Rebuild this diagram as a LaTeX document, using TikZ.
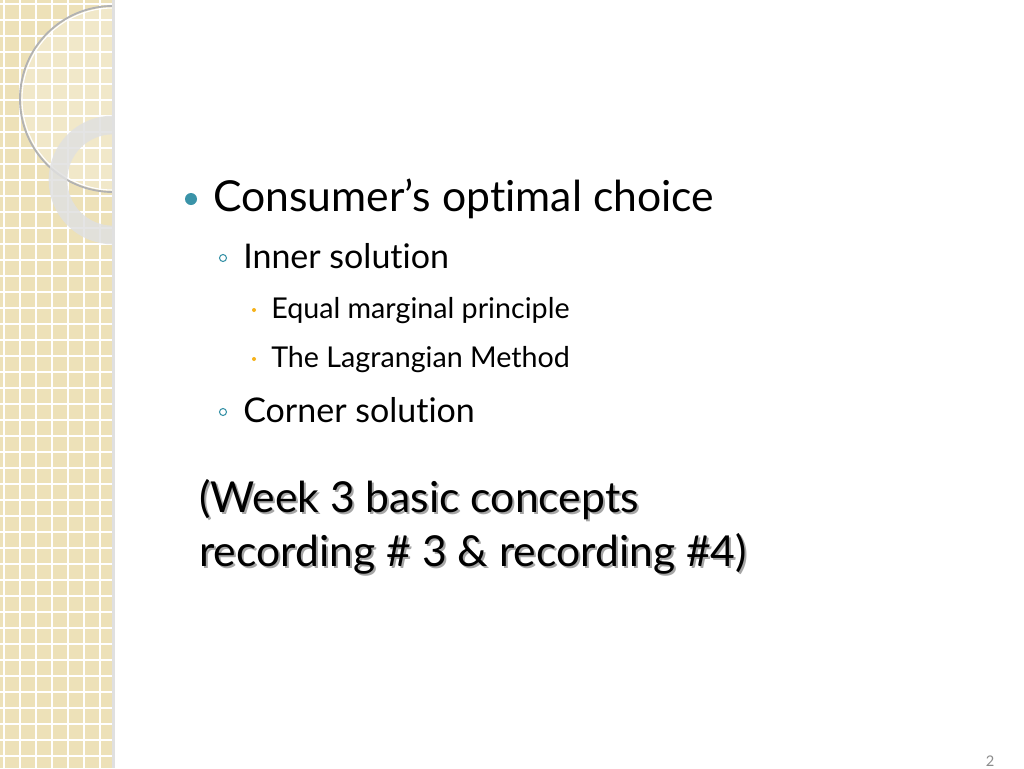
\documentclass[tikz,border=0pt]{standalone}
\usepackage{fontspec}
\setmainfont[Ligatures=NoCommon]{Lato}
\usetikzlibrary{positioning}
\definecolor{strip}{HTML}{EDE1B8}
\definecolor{teal}{HTML}{3A93A8}
\definecolor{amber}{HTML}{F6B21B}
\tikzset{
  lvlone/.style={anchor=base west, inner sep=0pt, font=\fontsize{32}{38}\selectfont},
  lvltwo/.style={anchor=base west, inner sep=0pt, font=\fontsize{25.5}{30}\selectfont},
  lvlthree/.style={anchor=base west, inner sep=0pt, font=\fontsize{21.5}{26}\selectfont},
  note/.style={anchor=base west, inner sep=0pt, font=\fontsize{32}{38}\selectfont}
}
\begin{document}
\begin{tikzpicture}[x=0.75pt, y=-0.75pt]
    \useasboundingbox (0,0) rectangle (1024,768);
    \fill[white] (0,0) rectangle (1024,768);

    % Left strip with grid
    \fill[strip] (0,0) rectangle (112,768);
    \begin{scope}
        \clip (0,0) rectangle (112,768);
        \foreach \k in {0,...,50} {
            \draw[white, line width=0.9pt] (\k*16+4,0) -- (\k*16+4,768);
            \draw[white, line width=0.9pt] (0,\k*16+4) -- (112,\k*16+4);
        }
        \fill[white, opacity=0.25] (113,99) circle (93);
        \draw[black!30, line width=1.4pt] (113,99) circle (93);
        \draw[white, line width=0.8pt] (113,99) circle (91);
        \draw[black!12, line width=14pt, opacity=0.85] (113,180) circle (55);
    \end{scope}
    \fill[black!12] (112,0) rectangle (115,768);

    % Bullets
    \node[lvlone] (one) at (213,211) {Consumer’s optimal choice};
    \fill[teal] (191,199) circle (6);
    \node[lvltwo] (inner) at (243,268) {Inner solution};
    \draw[teal, line width=0.8pt] (223,258) circle (3.5);
    \node[lvlthree] (equal) at (271,318) {Equal marginal principle};
    \fill[amber] (254,310) circle (2);
    \node[lvlthree] (lagr) at (271,367) {The Lagrangian Method};
    \fill[amber] (254,359) circle (2);
    \node[lvltwo] (corner) at (243,422) {Corner solution};
    \draw[teal, line width=0.8pt] (223,412) circle (3.5);

    % Note with shadow
    \node[note, black!35] at (201,514) {(Week 3 basic concepts};
    \node[note] (week) at (199,512) {(Week 3 basic concepts};
    \node[note, black!35] at (201,568) {recording \# 3 \& recording \#4)};
    \node[note] (rec) at (199,566) {recording \# 3 \& recording \#4)};

    \node[anchor=base, inner sep=0pt, black!45, font=\fontsize{11}{13}\selectfont] (page) at (990,766) {2};
\end{tikzpicture}
\end{document}
